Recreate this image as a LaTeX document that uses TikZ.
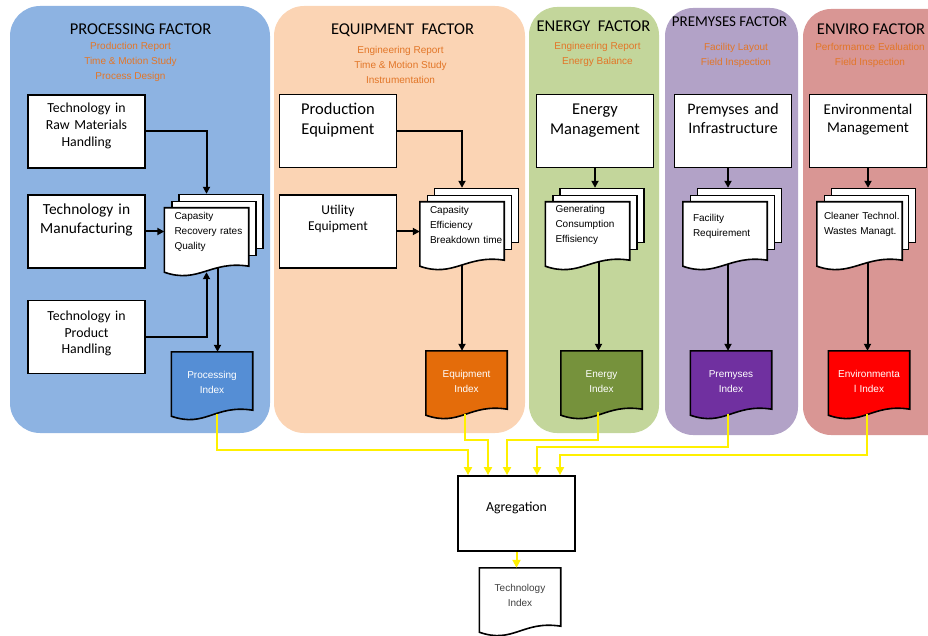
\documentclass[tikz,border=0pt]{standalone}
\usepackage{fontspec}
\setmainfont{Carlito}
\newfontfamily\arialf{Liberation Sans}
\usetikzlibrary{arrows.meta, calc}
\definecolor{procbg}{RGB}{141,179,226}
\definecolor{eqbg}{RGB}{251,212,180}
\definecolor{enbg}{RGB}{195,214,155}
\definecolor{prembg}{RGB}{178,162,199}
\definecolor{envbg}{RGB}{217,150,148}
\definecolor{procfill}{RGB}{85,142,213}
\definecolor{eqfill}{RGB}{228,108,10}
\definecolor{enfill}{RGB}{118,146,60}
\definecolor{premfill}{RGB}{112,48,160}
\definecolor{envfill}{RGB}{255,0,0}
\definecolor{srcorange}{RGB}{226,118,40}
\definecolor{aggyellow}{RGB}{255,240,0}
\definecolor{darktext}{RGB}{64,64,64}
\tikzset{>={Triangle[length=7pt,width=7pt]}}
\pgfdeclarelayer{panel}
\pgfdeclarelayer{sheet}
\pgfsetlayers{panel,sheet,main}
% document outline round a node, wavy bottom
\newcommand{\docwave}[1]{(#1.north west) -- (#1.north east) -- ([yshift=6pt]#1.south east)
  .. controls ([xshift=-38pt,yshift=12pt]#1.south east) and ([xshift=34pt,yshift=-12pt]#1.south west) .. (#1.south west) -- cycle}

\begin{document}
\begin{tikzpicture}[x=1pt, y=-1pt,
    ttl/.style={font=\fontsize{16.5}{20}\selectfont},
    src/.style={font=\arialf\fontsize{10}{15}\selectfont, text=srcorange, align=center},
    box/.style={draw, line width=1.8pt, fill=white, inner sep=0pt, minimum width=117pt,
      text width=112pt, align=center, text height=20pt, text depth=53pt},
    doc/.style={inner xsep=10pt, inner ysep=0pt, text width=64pt, align=left,
      text height=12pt, text depth=52pt, font=\arialf\fontsize{10}{15}\selectfont},
    sheet/.style={draw, line width=1.6pt, fill=white, inner sep=0pt, minimum width=84pt,
      minimum height=54pt, anchor=north west},
    idx/.style={inner xsep=8pt, inner ysep=0pt, text width=65pt, align=center, text=white,
      text height=26pt, text depth=38pt, font=\arialf\fontsize{10}{15}\selectfont},
    flow/.style={->, line width=2pt},
    ylw/.style={->, line width=2pt, draw=aggyellow, >={Triangle[length=8pt,width=8pt]}}]
    \useasboundingbox (0,0) rectangle (928,636);

    % factor boxes
    \node[box, font=\fontsize{13.8}{17}\selectfont, text height=18pt, text depth=55pt] (raw) at (86.5,131.5) {Technology in\\Raw Materials\\Handling};
    \node[box, font=\fontsize{15.4}{19}\selectfont] (manu) at (86.5,231.5) {Technology in\\Manufacturing};
    \node[box, font=\fontsize{13.8}{16.5}\selectfont] (prodh) at (86.5,337) {Technology in\\Product\\Handling};
    \node[box, font=\fontsize{16.5}{20}\selectfont] (prodeq) at (338,131) {Production\\Equipment};
    \node[box, font=\fontsize{13.5}{16}\selectfont] (util) at (338,231.5) {Utility\\Equipment};
    \node[box, font=\fontsize{16.5}{20}\selectfont] (enbox) at (595,131) {Energy\\Management};
    \node[box, font=\fontsize{16}{19}\selectfont] (prembox) at (733,131) {Premyses and\\Infrastructure};
    \node[box, font=\fontsize{15}{18}\selectfont] (envbox) at (868,131) {Environmental\\Management};

    % documents
    \node[doc] (procdoc) at (206.5,240) {Capasity\\\mbox{Recovery rates}\\Quality};
    \node[doc] (eqdoc) at (462,234) {Capasity\\Efficiency\\\mbox{Breakdown time}};
    \node[doc, text height=11pt, text depth=53pt] (endoc) at (587.5,234) {Generating\\Consumption\\Effisiency};
    \node[doc, text height=19.5pt, text depth=44.5pt] (premdoc) at (725,234) {Facility\\Requirement};
    \node[doc, inner xsep=7pt, text width=71pt, text height=18pt, text depth=46pt] (envdoc) at (859.5,234) {\mbox{Cleaner Technol.}\\\mbox{Wastes Managt.}};

    % indexes
    \node[idx] (procidx) at (212,384) {Processing\\Index};
    \node[idx] (eqidx) at (466.5,383) {Equipment\\Index};
    \node[idx] (enidx) at (601.5,383) {Energy\\Index};
    \node[idx] (premidx) at (731,383) {Premyses\\Index};
    \node[idx] (envidx) at (869,383) {Environmenta\\l Index};

    \node[box, font=\fontsize{13.8}{17}\selectfont, text height=35pt, text depth=40pt] (agg) at (516.5,513.5) {Agregation};
    \node[idx, text=darktext, text height=23.5pt, text depth=40.5pt] (techidx) at (520,600) {Technology\\Index};

    \begin{pgfonlayer}{sheet}
      \foreach \d in {procdoc, eqdoc, endoc, premdoc, envdoc} {
        \node[sheet] (back\d) at ([xshift=14pt,yshift=14pt]\d.north west) {};
        \node[sheet] (mid\d) at ([xshift=7pt,yshift=7pt]\d.north west) {};
        \draw[line width=1.6pt, fill=white] \docwave{\d};
      }
      \foreach \d/\c in {procidx/procfill, eqidx/eqfill, enidx/enfill, premidx/premfill, envidx/envfill, techidx/white}
        \draw[line width=1.6pt, fill=\c] \docwave{\d};
    \end{pgfonlayer}

    \begin{pgfonlayer}{panel}
      \fill[procbg, rounded corners=30pt] (10,6) rectangle (270,433);
      \fill[eqbg, rounded corners=30pt] (274,6) rectangle (525,433);
      \fill[enbg, rounded corners=28pt] (529,7) rectangle (659,433);
      \fill[prembg, rounded corners=28pt] (665,8) rectangle (798,435);
      \fill[envbg, rounded corners=28pt] (803,9) rectangle (960,435);
    \end{pgfonlayer}

    % titles
    \node[ttl] (proct) at (140.5,29) {PROCESSING FACTOR};
    \node[src] (procs) at (130.5,62) {Production Report\\Time \& Motion Study\\Process Design};
    \node[ttl] (eqt) at (402.5,30.5) {EQUIPMENT\ \ FACTOR};
    \node[src] (eqs) at (400.5,64.5) {Engineering Report\\Time \& Motion Study\\Instrumentation};
    \node[ttl] (ent) at (593.5,26.5) {ENERGY\ \ FACTOR};
    \node[src] (ens) at (597.5,54) {Engineering Report\\Energy Balance};
    \node[ttl, font=\fontsize{15}{18}\selectfont] (premt) at (729.5,21.5) {PREMYSES FACTOR};
    \node[src] (prems) at (736,55.5) {Facility Layout\\Field Inspection};
    \node[ttl] (envt) at (871,29.5) {ENVIRO FACTOR};
    \node[src] (envs) at (870,55.5) {Performamce Evaluation\\Field Inspection};

    % black flow
    \draw[flow] (raw.east) -| (procdoc.north |- backprocdoc.north);
    \draw[flow] (manu.east) -- (manu.east -| procdoc.west);
    \draw[flow] (prodh.east) -| (procdoc.south);
    \draw[flow] ([xshift=11pt,yshift=4pt]procdoc.south) -- ([xshift=11pt]procdoc.south |- procidx.north);
    \draw[flow] (prodeq.east) -| (eqdoc.north |- backeqdoc.north);
    \draw[flow] (util.east) -- (util.east -| eqdoc.west);
    \draw[flow] ([yshift=1pt]eqdoc.south) -- (eqdoc.south |- eqidx.north);
    \draw[flow] (enbox.south) -- (enbox.south |- backendoc.north);
    \draw[flow] ([xshift=11pt,yshift=4pt]endoc.south) -- ([xshift=11pt]endoc.south |- enidx.north);
    \draw[flow] ([xshift=-5pt]prembox.south) -- ([xshift=-5pt]prembox.south |- backpremdoc.north);
    \draw[flow] ([xshift=3pt,yshift=2pt]premdoc.south) -- ([xshift=3pt]premdoc.south |- premidx.north);
    \draw[flow] (envbox.south) -- (envbox.south |- backenvdoc.north);
    \draw[flow] ([xshift=8pt,yshift=3pt]envdoc.south) -- ([xshift=8pt]envdoc.south |- envidx.north);

    % yellow to agregation
    \draw[ylw] ([xshift=5pt,yshift=2pt]procidx.south) |- ([xshift=-48.5pt,yshift=25pt]agg.north) -- ([xshift=-48.5pt]agg.north);
    \draw[ylw] ([xshift=-1.5pt,yshift=1pt]eqidx.south) |- ([xshift=-28.5pt,yshift=35pt]agg.north) -- ([xshift=-28.5pt]agg.north);
    \draw[ylw] ([xshift=-3.5pt,yshift=3pt]enidx.south) |- ([xshift=-9.5pt,yshift=35pt]agg.north) -- ([xshift=-9.5pt]agg.north);
    \draw[ylw] ([xshift=-3pt,yshift=1pt]premidx.south) |- ([xshift=20.5pt,yshift=28pt]agg.north) -- ([xshift=20.5pt]agg.north);
    \draw[ylw] ([xshift=-2pt,yshift=1pt]envidx.south) |- ([xshift=43.5pt,yshift=20pt]agg.north) -- ([xshift=43.5pt]agg.north);
    \draw[ylw] (agg.south) -- (agg.south |- techidx.north);
\end{tikzpicture}
\end{document}
